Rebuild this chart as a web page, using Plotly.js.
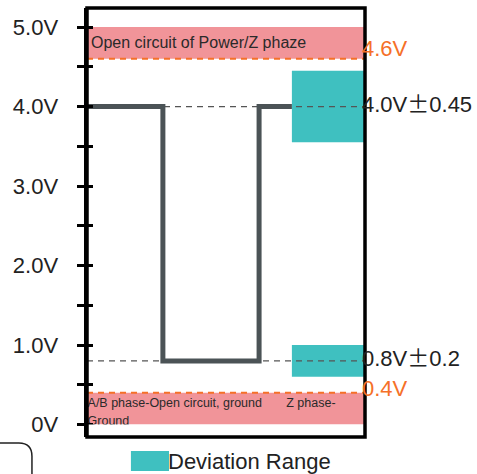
<!DOCTYPE html>
<html>
<head>
<meta charset="utf-8">
<script src="https://cdn.plot.ly/plotly-3.0.1.min.js"></script>
<style>html,body{margin:0;padding:0;background:#fff;}#chart{width:477px;height:474px;}</style>
</head>
<body>
<div id="chart"></div>
<script>
// ---- data ----
const signalTime = [0, 27.3, 27.3, 61.9, 61.9, 73.7];
const signalVolt = [4.0, 4.0, 0.8, 0.8, 4.0, 4.0];
const nominalLevels = [4.0, 0.8];
const tolerances = [0.45, 0.2];
const nominalLabels = ["4.0V", "0.8V"];
const tolLabels = ["0.45", "0.2"];
const deviationStart = 73.7;
const faultBandLow = [4.6, 0.0];
const faultBandHigh = [5.0, 0.4];
const thresholdLevels = [4.6, 0.4];
const thresholdLabels = ["4.6V", "0.4V"];
const faultLabels = ["Open circuit of Power/Z phaze", "A/B phase-Open circuit, ground\u00a0\u00a0\u00a0\u00a0\u00a0\u00a0\u00a0Z phase-", "Ground"];
const legendLabel = "Deviation Range";
const tickVals = [0, 0.5, 1, 1.5, 2, 2.5, 3, 3.5, 4, 4.5, 5];
const tickText = ["0V", "", "1.0V", "", "2.0V", "", "3.0V", "", "4.0V", "", "5.0V"];
const xMax = 100;
const yRange = [-0.157, 5.24];

const PINK = "rgb(241,148,153)";
const TEAL = "rgb(63,192,192)";
const ORANGE = "rgb(245,112,40)";
const GREY = "#4b5356";
const FONT = "Liberation Sans, Arial, sans-serif";

const shapes = [];
for (let i = 0; i < faultBandLow.length; i++) {
  shapes.push({type: "rect", xref: "x", yref: "y", x0: 0, x1: xMax, y0: faultBandLow[i], y1: faultBandHigh[i],
    fillcolor: PINK, line: {width: 0}, layer: "below"});
}
for (let i = 0; i < nominalLevels.length; i++) {
  shapes.push({type: "rect", xref: "x", yref: "y", x0: deviationStart, x1: xMax,
    y0: nominalLevels[i] - tolerances[i], y1: nominalLevels[i] + tolerances[i],
    fillcolor: TEAL, line: {width: 0}, layer: "below"});
}
for (let i = 0; i < thresholdLevels.length; i++) {
  shapes.push({type: "line", xref: "x", yref: "y", x0: 0, x1: xMax, y0: thresholdLevels[i], y1: thresholdLevels[i],
    line: {color: ORANGE, width: 2, dash: "6px,5px"}, layer: "below"});
}
for (let i = 0; i < nominalLevels.length; i++) {
  shapes.push({type: "line", xref: "x", yref: "y", x0: 0, x1: xMax, y0: nominalLevels[i], y1: nominalLevels[i],
    line: {color: "#555", width: 1.3, dash: "6px,5px"}, layer: "below"});
}
// white mask below 0 (clips the band text)
shapes.push({type: "rect", xref: "x", yref: "y", x0: 0, x1: xMax, y0: yRange[0], y1: 0,
  fillcolor: "#fff", line: {width: 0}, layer: "above"});
// frame
shapes.push({type: "rect", xref: "paper", yref: "paper", x0: 0, x1: 1, y0: 0, y1: 1,
  line: {color: "#000", width: 3.5}, fillcolor: "rgba(0,0,0,0)", layer: "above"});
// legend swatch
shapes.push({type: "rect", xref: "paper", yref: "paper", x0: 0.158, x1: 0.295, y0: -0.0793, y1: -0.0326,
  fillcolor: TEAL, line: {width: 0}, layer: "above"});
// stray rounded box corner at bottom-left
shapes.push({type: "path", xref: "paper", yref: "paper",
  path: "M -0.33 -0.014 L -0.245 -0.014 Q -0.198 -0.014 -0.198 -0.045 L -0.198 -0.12",
  line: {color: "#222", width: 1.5}, layer: "above"});

const annotations = [];
annotations.push({xref: "paper", yref: "y", x: 0.006, y: 4.81, xanchor: "left", yanchor: "middle",
  text: faultLabels[0], showarrow: false, font: {family: FONT, size: 16, color: "#2a2a2a"}});
const thrShift = [10, 4];
for (let i = 0; i < thresholdLevels.length; i++) {
  annotations.push({xref: "paper", yref: "y", x: 0.983, y: thresholdLevels[i], xanchor: "left", yanchor: "middle",
    yshift: thrShift[i], text: thresholdLabels[i], showarrow: false,
    font: {family: FONT, size: 22, color: ORANGE}});
}
for (let i = 0; i < nominalLevels.length; i++) {
  annotations.push({xref: "paper", yref: "y", x: 0.983, y: nominalLevels[i], xanchor: "left", yanchor: "middle",
    yshift: 5,
    text: nominalLabels[i] + "<span style='font-family:Noto Sans CJK JP'>±</span>" + tolLabels[i],
    showarrow: false, font: {family: FONT, size: 22, color: "#222"}});
}
annotations.push({xref: "paper", yref: "paper", x: 0.284, y: -0.056, xanchor: "left", yanchor: "middle",
  text: legendLabel, showarrow: false, font: {family: FONT, size: 22, color: "#222"}});

const traces = [
  {x: signalTime, y: signalVolt, type: "scatter", mode: "lines",
   line: {color: GREY, width: 5}, hoverinfo: "skip", showlegend: false},
  {x: [0.2, 0.2], y: [0.26, 0.03], type: "scatter", mode: "text",
   text: [faultLabels[1], faultLabels[2]], textposition: "middle right",
   textfont: {family: FONT, size: 12.5, color: "#2a2a2a"}, cliponaxis: false, hoverinfo: "skip", showlegend: false},
  {x: [0], y: [0], yaxis: "y2", type: "scatter", mode: "markers", marker: {opacity: 0}, hoverinfo: "skip", showlegend: false}
];

const layout = {
  width: 477, height: 474,
  margin: {l: 87, r: 112, t: 8, b: 37},
  paper_bgcolor: "#fff", plot_bgcolor: "#fff",
  showlegend: false,
  xaxis: {range: [0, xMax], visible: false, fixedrange: true},
  yaxis: {range: yRange, tickvals: tickVals, ticktext: tickText, ticks: "outside", ticklen: 7, tickwidth: 3,
    tickcolor: "#000", showline: true, linecolor: "#000", linewidth: 3.5, showgrid: false, zeroline: false,
    ticklabelstandoff: 14, tickfont: {family: FONT, size: 22, color: "#222"}, fixedrange: true},
  yaxis2: {range: yRange, overlaying: "y", side: "left", tickvals: tickVals, ticks: "inside", ticklen: 6, tickwidth: 3,
    tickcolor: "#000", showticklabels: false, showline: false, showgrid: false, zeroline: false, fixedrange: true},
  shapes: shapes,
  annotations: annotations
};

Plotly.newPlot("chart", traces, layout, {displayModeBar: false, staticPlot: true});
</script>
</body>
</html>
